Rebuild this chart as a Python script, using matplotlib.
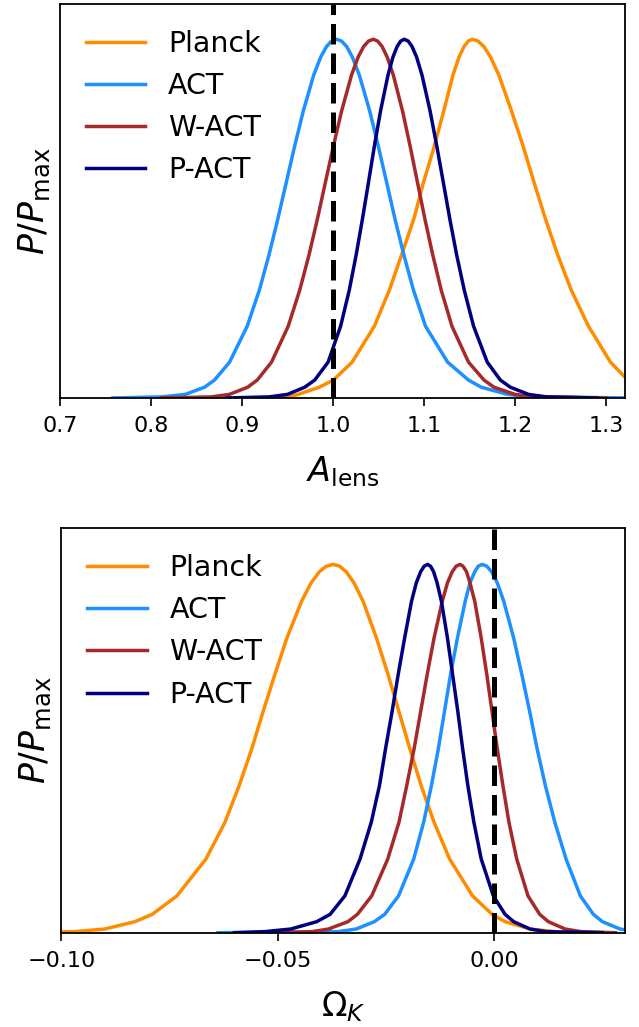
import matplotlib.pyplot as plt

# colours / labels
labels = ['Planck', 'ACT', 'W-ACT', 'P-ACT']
colors = ['darkorange', 'dodgerblue', 'brown', 'navy']

levels = [0.003, 0.01, 0.03, 0.05, 0.1, 0.2, 0.3, 0.4, 0.5, 0.6, 0.7, 0.8, 0.9, 0.95, 0.98, 0.995]

# ---- A_lens ----
# left branch (same order as levels), peak, right branch (same order as levels), tail ends
alens_planck_left = [0.950, 0.962, 0.985, 1.0005, 1.0211, 1.0455, 1.0619, 1.0756, 1.089, 1.0994, 1.1112,
                     1.1218, 1.1319, 1.1385, 1.1441, 1.1488]
alens_planck_peak = 1.1535
alens_planck_right = [1.40, 1.37, 1.34, 1.324, 1.305, 1.2809, 1.2621, 1.2469, 1.2335, 1.2212, 1.2093,
                      1.1963, 1.1824, 1.1733, 1.1658, 1.1595]
alens_planck_ends = [0.945, 1.45]

alens_act_left = [0.812, 0.8377, 0.8589, 0.8698, 0.8864, 0.9057, 0.9190, 0.9298, 0.9395, 0.9486, 0.9577,
                  0.9674, 0.9788, 0.9865, 0.9930, 0.9985]
alens_act_peak = 1.004
alens_act_right = [1.220, 1.192, 1.163, 1.149, 1.126, 1.1018, 1.0886, 1.0778, 1.0681, 1.0591, 1.050,
                   1.0404, 1.029, 1.0214, 1.015, 1.0094]
alens_act_ends = [0.758, 1.33]

alens_wact_left = [0.8667, 0.8862, 0.9063, 0.9168, 0.9325, 0.9508, 0.9634, 0.9738, 0.9830, 0.9916, 1.0003,
                   1.0095, 1.0204, 1.0276, 1.0338, 1.0391]
alens_wact_peak = 1.0443
alens_wact_right = [1.222, 1.200, 1.177, 1.166, 1.149, 1.1308, 1.1191, 1.1096, 1.101, 1.093, 1.085,
                    1.0765, 1.0664, 1.0597, 1.054, 1.0491]
alens_wact_ends = [0.812, 1.30]

alens_pact_left = [0.930, 0.950, 0.969, 0.980, 0.9947, 1.0084, 1.0179, 1.0256, 1.0325, 1.039, 1.0454,
                   1.0523, 1.0605, 1.0659, 1.0706, 1.0745]
alens_pact_peak = 1.0784
alens_pact_right = [1.235, 1.215, 1.195, 1.184, 1.1696, 1.1546, 1.1444, 1.1359, 1.1284, 1.1214, 1.1143,
                    1.1068, 1.0979, 1.092, 1.0869, 1.0827]
alens_pact_ends = [0.883, 1.29]

# ---- Omega_K ----
omk_planck_left = [-0.097, -0.090, -0.083, -0.079, -0.0733, -0.0666, -0.0622, -0.0589, -0.0560, -0.0534,
                   -0.0507, -0.0479, -0.0445, -0.0423, -0.0404, -0.0388]
omk_planck_peak = -0.0372
omk_planck_right = [0.0139, 0.0083, 0.0025, -0.0005, -0.0050, -0.0103, -0.0139, -0.0169, -0.0195, -0.0220,
                    -0.0245, -0.0272, -0.0303, -0.0324, -0.0342, -0.0357]
omk_planck_ends = [-0.11, 0.016]

omk_act_left = [-0.036, -0.0319, -0.0277, -0.0253, -0.0221, -0.0186, -0.0163, -0.0145, -0.0129, -0.0115,
                -0.0101, -0.0085, -0.0067, -0.0056, -0.0045, -0.0037]
omk_act_peak = -0.0028
omk_act_right = [0.0330, 0.0291, 0.0250, 0.0229, 0.0199, 0.0166, 0.0140, 0.0118, 0.0099, 0.0082, 0.0064,
                 0.0045, 0.0022, 0.0007, -0.0006, -0.0017]
omk_act_ends = [-0.0638, 0.04]

omk_wact_left = [-0.042, -0.0383, -0.0338, -0.0316, -0.0283, -0.0246, -0.0220, -0.0202, -0.0185, -0.0170,
                 -0.0155, -0.0139, -0.0120, -0.0108, -0.0097, -0.0088]
omk_wact_peak = -0.0079
omk_wact_right = [0.020, 0.0164, 0.0125, 0.0105, 0.0078, 0.0052, 0.0034, 0.0020, 0.0007, -0.0005, -0.0017,
                  -0.0030, -0.0045, -0.0056, -0.0064, -0.0072]
omk_wact_ends = [-0.050, 0.028]

omk_pact_left = [-0.053, -0.047, -0.041, -0.0379, -0.0345, -0.0310, -0.0284, -0.0265, -0.0251, -0.0236,
                 -0.0222, -0.0207, -0.0191, -0.0180, -0.0170, -0.0162]
omk_pact_peak = -0.0154
omk_pact_right = [0.012, 0.0083, 0.0045, 0.0025, -0.0002, -0.0030, -0.0047, -0.0061, -0.0073, -0.0084,
                  -0.0096, -0.0108, -0.0122, -0.0132, -0.0140, -0.0147]
omk_pact_ends = [-0.060, 0.025]

alens_xticks = [0.7, 0.8, 0.9, 1.0, 1.1, 1.2, 1.3]
alens_xticklabels = ['0.7', '0.8', '0.9', '1.0', '1.1', '1.2', '1.3']
omk_xticks = [-0.10, -0.05, 0.00]
omk_xticklabels = ['\u22120.10', '\u22120.05', '0.00']


def curve(left, peak, right, ends):
    # stitch one posterior together: tail, left branch, peak, right branch, tail
    x = [ends[0]] + left + [peak] + right[::-1] + [ends[1]]
    y = [0.0] + levels + [1.0] + levels[::-1] + [0.0]
    return x, y


alens_curves = [
    curve(alens_planck_left, alens_planck_peak, alens_planck_right, alens_planck_ends),
    curve(alens_act_left, alens_act_peak, alens_act_right, alens_act_ends),
    curve(alens_wact_left, alens_wact_peak, alens_wact_right, alens_wact_ends),
    curve(alens_pact_left, alens_pact_peak, alens_pact_right, alens_pact_ends),
]
omk_curves = [
    curve(omk_planck_left, omk_planck_peak, omk_planck_right, omk_planck_ends),
    curve(omk_act_left, omk_act_peak, omk_act_right, omk_act_ends),
    curve(omk_wact_left, omk_wact_peak, omk_wact_right, omk_wact_ends),
    curve(omk_pact_left, omk_pact_peak, omk_pact_right, omk_pact_ends),
]

fig = plt.figure(figsize=(6.39, 10.27), dpi=100)
ax1 = fig.add_axes([0.094, 0.6125, 0.884, 0.3835])
ax2 = fig.add_axes([0.096, 0.0918, 0.882, 0.3938])

panels = [
    (ax1, alens_curves, (0.7, 1.321), alens_xticks, alens_xticklabels, r'$A_{\rm lens}$', 1.0),
    (ax2, omk_curves, (-0.1, 0.0302), omk_xticks, omk_xticklabels, r'$\Omega_K$', 0.0),
]

for ax, curves, xlim, ticks, ticklabels, xlabel, ref in panels:
    for (x, y), lab, c in zip(curves, labels, colors):
        ax.plot(x, y, color=c, lw=2.5, label=lab)
    ax.axvline(ref, color='k', lw=3.6, dashes=(4.1, 1.8))
    ax.set_xlim(*xlim)
    ax.set_ylim(0, 1.098)
    ax.set_xticks(ticks)
    ax.set_xticklabels(ticklabels)
    ax.set_yticks([])
    ax.tick_params(axis='x', labelsize=16, length=6, width=1.2, pad=7)
    for s in ax.spines.values():
        s.set_linewidth(1.3)
    ax.set_xlabel(xlabel, fontsize=24, labelpad=13)
    ax.set_ylabel(r'$P/P_{\rm max}$', fontsize=25, labelpad=6)
    ax.legend(loc='upper left', frameon=False, fontsize=20.5, labelspacing=0.5,
              handlelength=2.1, handletextpad=0.8)

fig.savefig('out.png', dpi=100)
